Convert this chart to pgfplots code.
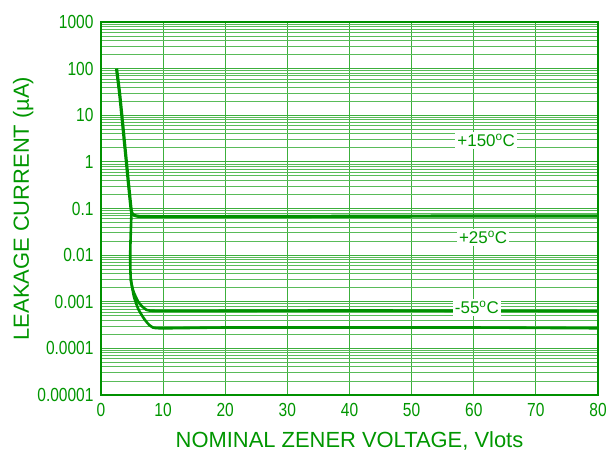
\documentclass[border=0pt]{standalone}
\usepackage{fontspec}
\setmainfont{Liberation Sans}
\newfontfamily\narrowfont[FakeStretch=0.82]{Liberation Sans}
\usepackage{pgfplots}
\pgfplotsset{compat=1.18}
\definecolor{gtext}{RGB}{0,150,0}
\definecolor{gline}{RGB}{0,145,0}
\definecolor{ggrid}{RGB}{60,175,60}
\begin{document}
\begin{tikzpicture}[x=1bp,y=1bp]
\useasboundingbox (0,0) rectangle (615,457);
\begin{axis}[
  at={(101bp,62bp)}, anchor=south west,
  scale only axis, width=497bp, height=373bp,
  ymode=log, xmin=0, xmax=80, ymin=1e-5, ymax=1000,
  xtick={0,10,...,80},
  ytick={1e-5,1e-4,1e-3,1e-2,1e-1,1,10,100,1000},
  yticklabels={0.00001,0.0001,0.001,0.01,0.1,1,10,100,1000},
  xticklabels={0,10,20,30,40,50,60,70,80},
  /pgf/number format/assume math mode=true,
  major tick length=0pt, minor tick length=0pt,
  grid=both,
  major grid style={ggrid, line width=0.9bp},
  minor grid style={ggrid!85, line width=0.9bp},
  axis line style={gline, line width=1.6bp},
  tick label style={text=gtext, font=\narrowfont\fontsize{19}{21}\selectfont},
  xticklabel style={yshift=-5bp},
  yticklabel style={xshift=-4bp},
  xlabel={NOMINAL ZENER VOLTAGE, Vlots},
  ylabel={LEAKAGE CURRENT (\textmu A)},
  label style={text=gtext, font=\fontsize{22}{24}\selectfont},
  xlabel style={yshift=-8bp},
  ylabel style={yshift=-3bp},
]
\addplot[gline, line width=3.2bp, smooth, tension=0.3] coordinates {
(2.5,100) (3,29) (3.5,6.2) (4,1.3) (4.5,0.27) (4.9,0.085) (5.3,0.072) (6,0.068) (8,0.067) (20,0.067) (40,0.068) (60,0.069) (80,0.069)};
\addplot[gline, line width=2.6bp, smooth, tension=0.4] coordinates {
(4.9,0.08) (4.75,0.02) (4.7,0.008) (4.8,0.003) (5.2,0.0017) (6,0.001) (7,0.00072) (8.5,0.00064) (20,0.00064) (40,0.00065) (60,0.00064) (80,0.00063)};
\addplot[gline, line width=2.6bp, smooth, tension=0.4] coordinates {
(4.8,0.003) (5.3,0.0013) (6,0.0007) (7,0.00042) (8,0.0003) (9.5,0.00027) (20,0.00028) (40,0.00028) (60,0.00028) (80,0.00027)};
\node[fill=white, text=gtext, font=\fontsize{17}{19}\selectfont, inner sep=2bp] at (axis cs:62,2.9) {+150$^{\mathrm{o}}$C};
\node[fill=white, text=gtext, font=\fontsize{17}{19}\selectfont, inner sep=2bp] at (axis cs:61.5,0.024) {+25$^{\mathrm{o}}$C};
\node[fill=white, text=gtext, font=\fontsize{17}{19}\selectfont, inner sep=2bp] at (axis cs:60.5,0.00075) {-55$^{\mathrm{o}}$C};
\end{axis}
\end{tikzpicture}
\end{document}
